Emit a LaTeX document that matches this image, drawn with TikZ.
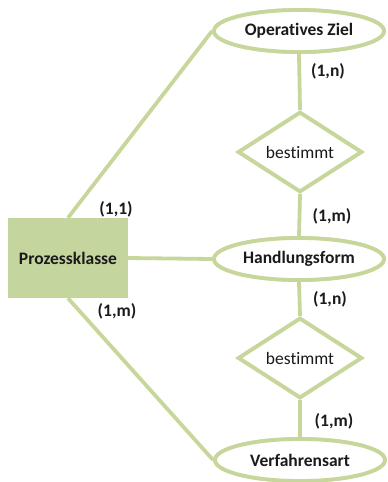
\documentclass[tikz,border=0pt]{standalone}
\usepackage{fontspec}
\setmainfont[Ligatures=NoCommon]{Carlito}
\usepackage{tikz}
\usetikzlibrary{shapes.geometric}
\definecolor{erlinie}{RGB}{199,214,155}
\definecolor{erfuell}{RGB}{197,213,158}
\definecolor{ertext}{RGB}{26,26,26}
\begin{document}
\begin{tikzpicture}[x=1pt,y=-1pt,
    entitaet/.style={ellipse,draw=erlinie,line width=3.8pt,fill=white,
      minimum width=170pt,minimum height=42pt,inner sep=0pt,text=ertext,
      font=\fontsize{17.5}{20}\selectfont\bfseries},
    beziehung/.style={diamond,draw=erlinie,line width=3.8pt,fill=white,
      minimum width=124pt,minimum height=76pt,inner sep=0pt,text=ertext,
      font=\fontsize{17.5}{20}\selectfont},
    klasse/.style={rectangle,fill=erfuell,minimum width=120pt,minimum height=80pt,
      inner sep=0pt,text=ertext,font=\fontsize{17.5}{20}\selectfont\bfseries},
    kante/.style={draw=erlinie,line width=3.8pt},
    kard/.style={text=ertext,font=\fontsize{17.5}{20}\selectfont\bfseries}]
    \useasboundingbox (0,0) rectangle (388,482);

    \node[klasse] (pk) at (68,258) {Prozessklasse};
    \node[entitaet] (oz) at (299,31) {Operatives Ziel};
    \node[beziehung] (b1) at (300,152) {bestimmt};
    \node[entitaet] (hf) at (299,259) {Handlungsform};
    \node[beziehung] (b2) at (300,358) {bestimmt};
    \node[entitaet] (va) at (300,460) {Verfahrensart};

    \path[kante] (pk.north) -- (oz.west);
    \path[kante] (pk.east) -- (hf.west);
    \path[kante] (pk.south) -- (va.west);
    \path[kante] (oz.south) -- (b1.north);
    \path[kante] (b1.south) -- (hf.north);
    \path[kante] (hf.south) -- (b2.north);
    \path[kante] (b2.south) -- (va.north);

    % Knoten neu zeichnen, damit die Kanten darunter liegen
    \node[klasse] at (pk) {Prozessklasse};
    \node[entitaet] at (oz) {Operatives Ziel};
    \node[beziehung] at (b1) {bestimmt};
    \node[entitaet] at (hf) {Handlungsform};
    \node[beziehung] at (b2) {bestimmt};
    \node[entitaet] at (va) {Verfahrensart};

    \node[kard] (k1) at (116,209) {(1,1)};
    \node[kard] (k2) at (117,311) {(1,m)};
    \node[kard] (k3) at (328,71) {(1,n)};
    \node[kard] (k4) at (332,216) {(1,m)};
    \node[kard] (k5) at (330,299) {(1,n)};
    \node[kard] (k6) at (334,421) {(1,m)};
\end{tikzpicture}
\end{document}
